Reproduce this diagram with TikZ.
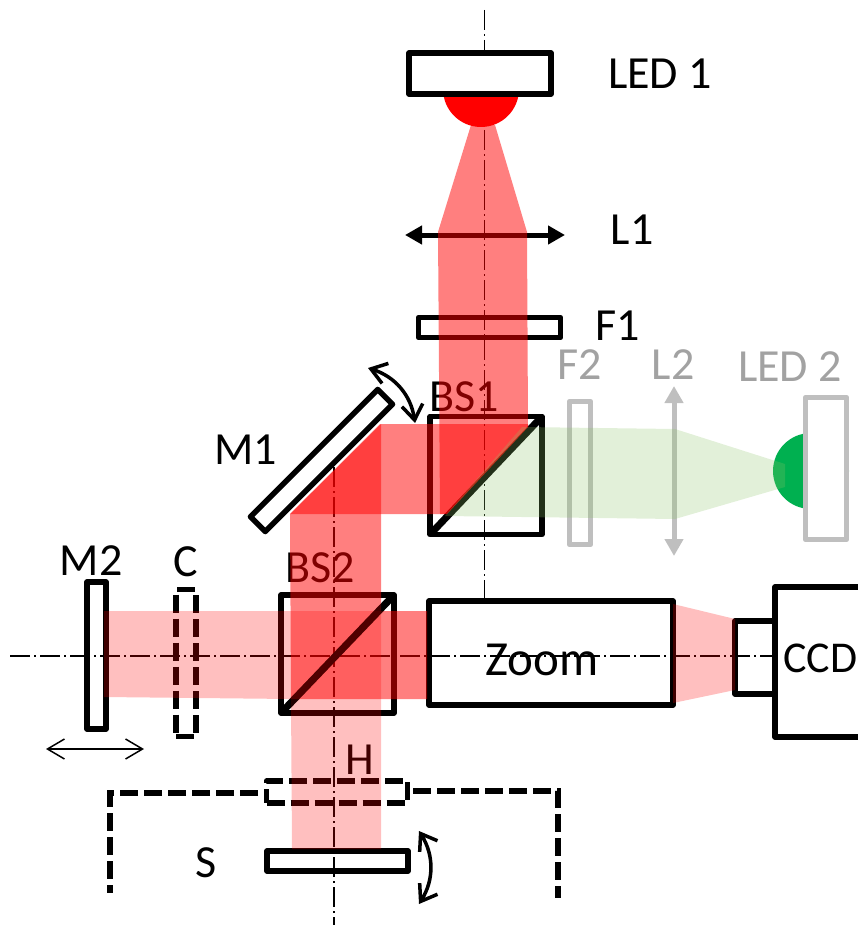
\documentclass[tikz,border=0pt]{standalone}
\usepackage{fontspec}
\setmainfont{Carlito}
\usetikzlibrary{arrows.meta}
\definecolor{ledgreen}{RGB}{0,176,80}
\definecolor{beamgreen}{RGB}{139,195,103}
\definecolor{offgray}{RGB}{191,191,191}

\begin{document}
\begin{tikzpicture}[x=1pt, y=-1pt,
        optic/.style={draw, line width=5.5pt, line join=round, inner sep=0pt, outer sep=0pt},
        offoptic/.style={optic, draw=offgray},
        removable/.style={optic, dash pattern=on 18pt off 6pt},
        splitter/.style={line width=7pt},
        enclosure/.style={line width=6pt, dash pattern=on 18pt off 6pt},
        axis/.style={line width=1.5pt, dash pattern=on 20pt off 4pt on 2pt off 4pt},
        lens/.style={line width=5pt, {Triangle[length=17pt,width=18pt]}-{Triangle[length=17pt,width=18pt]}},
        tilt/.style={line width=3.5pt, {Straight Barb[length=15pt,width=21pt]}-{Straight Barb[length=15pt,width=21pt]}},
        lab/.style={inner sep=0pt, font=\fontsize{46}{54}\selectfont},
        offlab/.style={lab, text=offgray!85!black},
        strong/.style={fill=red, fill opacity=0.5},
        weak/.style={fill=red, fill opacity=0.25},
        pale/.style={fill=beamgreen, fill opacity=0.25}]
        \clip (0,0) rectangle (858,925);

        % axes
        \coordinate (axisa) at (484.5,10);
        \coordinate (axisb) at (484.5,603);
        \coordinate (axisc) at (334,467);
        \coordinate (axisd) at (334,925);
        \coordinate (axise) at (10,656);
        \coordinate (axisf) at (772,656);
        \draw[axis] (axisa) -- (axisb);
        \draw[axis] (axisc) -- (axisd);
        \draw[axis] (axise) -- (axisf);

        % sources
        \fill[red] (481,89) circle (38);
        \fill[ledgreen] (811,471) circle (38);

        % optics
        \node[optic, fill=white, minimum width=142pt, minimum height=41pt] (led1) at (480,73.5) {};
        \node[optic, minimum width=142pt, minimum height=20pt] (f1) at (489.5,327.5) {};
        \node[optic, minimum width=112pt, minimum height=118pt] (bs1) at (486,475.5) {};
        \draw[splitter] (bs1.south west) -- (bs1.north east);
        \node[optic, fill=white, minimum width=180pt, minimum height=21pt, rotate=45] (m1) at (321.5,460.5) {};
        \node[optic, minimum width=113pt, minimum height=118pt] (bs2) at (337.5,654) {};
        \draw[splitter] (bs2.south west) -- (bs2.north east);
        \node[optic, minimum width=19pt, minimum height=147pt] (m2) at (96.5,655.5) {};
        \node[removable, minimum width=20pt, minimum height=147pt] (c) at (186,663) {};
        \node[optic, minimum width=244pt, minimum height=104pt] (zoom) at (551,653) {};
        \node[optic, minimum width=40pt, minimum height=73pt] (neck) at (755,657.5) {};
        \node[optic, minimum width=100pt, minimum height=150pt] (ccd) at (825,662) {};
        \node[removable, minimum width=141pt, minimum height=22pt] (h) at (337,792) {};
        \node[optic, minimum width=141pt, minimum height=20pt] (s) at (337.5,861) {};

        % off path
        \node[offoptic, minimum width=21pt, minimum height=143pt] (f2) at (580,473) {};
        \node[offoptic, fill=white, minimum width=41pt, minimum height=142pt] (led2) at (826,468.5) {};
        \coordinate (l2a) at (674,386);
        \coordinate (l2b) at (674,556);
        \draw[lens, offgray] (l2a) -- (l2b);

        % lens L1
        \coordinate (l1a) at (405,235);
        \coordinate (l1b) at (565,235);
        \draw[lens] (l1a) -- (l1b);

        % sample enclosure
        \coordinate (enca) at (110,893);
        \coordinate (encb) at (110,793);
        \coordinate (encc) at (258,793);
        \coordinate (encd) at (413,791);
        \coordinate (ence) at (558,791);
        \coordinate (encf) at (558,898);
        \draw[enclosure] (encc) -- (encb) -- (enca);
        \draw[enclosure] (encd) -- (ence) -- (encf);

        % motions
        \coordinate (tilta) at (368,368);
        \coordinate (tiltb) at (415,423);
        \coordinate (tiltc) at (419,831);
        \coordinate (tiltd) at (419,904);
        \coordinate (shifta) at (46,749);
        \coordinate (shiftb) at (144,749);
        \draw[tilt] (tilta) to[bend left=32] (tiltb);
        \draw[tilt] (tiltc) to[bend left=32] (tiltd);
        \draw[line width=1.5pt, {Straight Barb[length=17pt,width=20pt]}-{Straight Barb[length=17pt,width=20pt]}] (shifta) -- (shiftb);

        % labels
        \node[lab] (ledone) at (660,74) {LED 1};
        \node[lab] (lone) at (632,230) {L1};
        \node[lab] (fone) at (618,326) {F1};
        \node[lab] (mone) at (245.5,450) {M1};
        \node[lab] (bsone) at (464,397) {BS1};
        \node[lab] (mtwo) at (91,561) {M2};
        \node[lab] (clab) at (186,562) {C};
        \node[lab] (bstwo) at (320,568) {BS2};
        \node[lab] (hlab) at (359.5,760) {H};
        \node[lab] (slab) at (206,863) {S};
        \node[lab, font=\fontsize{49}{58}\selectfont] (zoomlab) at (542,660) {Zoom};
        \node[lab, anchor=west, font=\fontsize{44}{52}\selectfont] (ccdlab) at (783,658) {CCD};
        \node[offlab] (ftwo) at (580,365) {F2};
        \node[offlab] (ltwo) at (673,365) {L2};
        \node[offlab] (ledtwo) at (790,367) {LED 2};

        % beams
        \fill[strong] (471,125) -- (495,125) -- (527,232) -- (528,427) -- (447,514) -- (440,514) -- (438,232) -- cycle;
        \fill[strong] (380,424) -- (528,424) -- (528,427) -- (447,514) -- (290,514) -- cycle;
        \fill[strong] (381,424) -- (381,611) -- (291,699) -- (290,514) -- cycle;
        \fill[weak] (381,611) -- (381,849) -- (292,849) -- (291,699) -- cycle;
        \fill[weak] (104,611) -- (381,611) -- (291,699) -- (104,697) -- cycle;
        \fill[strong] (381,611) -- (427,611) -- (427,699) -- (291,699) -- cycle;
        \fill[weak] (673,604) -- (735,619) -- (735,690) -- (673,703) -- cycle;
        \fill[pale] (522,427) -- (675,429) -- (785,464) -- (785,487) -- (675,519) -- (445,516) -- cycle;
        \draw[splitter, draw opacity=0.5] (bs2.south west) -- (bs2.north east);
    \end{tikzpicture}
\end{document}
